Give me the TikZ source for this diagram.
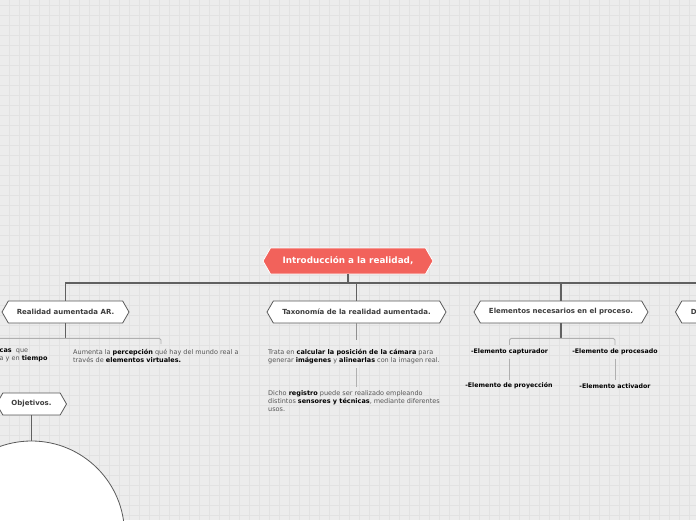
\documentclass[tikz,border=0pt]{standalone}
\usepackage{fontspec}
\setmainfont{DejaVu Sans}
\usetikzlibrary{shapes.symbols}
\definecolor{bgc}{HTML}{ECECEC}
\definecolor{gridc}{HTML}{E2E2E2}
\definecolor{rootc}{HTML}{F2625B}
\definecolor{darkline}{HTML}{606060}
\definecolor{lightline}{HTML}{B0B0B0}
\definecolor{nodeline}{HTML}{5A5A5A}
\definecolor{textdark}{HTML}{3C3C3C}
\definecolor{textreg}{HTML}{555555}
\begin{document}
\begin{tikzpicture}[x=1pt,y=-1pt,
  hexnode/.style={shape=signal, signal to=east and west, signal pointer angle=120,
    draw=nodeline, fill=white, line width=0.8pt, minimum height=22pt, inner xsep=2pt,
    font=\fontsize{7}{8}\selectfont\bfseries, text=textdark},
  rootnode/.style={hexnode, fill=rootc, draw=white, text=white, minimum height=26pt,
    font=\fontsize{8.8}{10}\selectfont\bfseries},
  bodytext/.style={anchor=north west, inner sep=0pt, align=left, text=textreg,
    font=\fontsize{6.5}{8}\selectfont},
  itemtext/.style={inner sep=0pt, text=black, font=\fontsize{6.25}{8}\selectfont\bfseries},
  darkc/.style={draw=darkline, line width=1.2pt},
  midc/.style={draw=darkline!70, line width=0.9pt},
  lightc/.style={draw=lightline, line width=0.9pt, rounded corners=1.5pt},
]
\useasboundingbox (0,0) rectangle (696,520);
\fill[bgc] (0,0) rectangle (696,520);
\foreach \i in {0,...,69} {\draw[gridc, line width=0.7pt] (9.5+10*\i,0) -- (9.5+10*\i,520);}
\foreach \j in {0,...,51} {\draw[gridc, line width=0.7pt] (0,5+10*\j) -- (696,5+10*\j);}

% nodes
\node[rootnode, minimum width=170pt] (root) at (348,261) {Introducción a la realidad,};
\node[hexnode, minimum width=127pt] (n1) at (65.5,312) {Realidad aumentada AR.};
\node[hexnode, minimum width=179pt] (n2) at (356.5,312) {Taxonomía de la realidad aumentada.};
\node[hexnode, minimum width=174pt] (n3) at (561,312) {Elementos necesarios en el proceso.};
\node[hexnode, minimum width=140pt, text width=110pt, align=left, inner xsep=9pt, anchor=west] (n4) at (675,312) {D};
\node[hexnode, minimum width=70pt] (n5) at (31.5,404) {Objetivos.};
\node[circle, draw=nodeline, fill=white, line width=0.8pt, minimum size=186pt, inner sep=0pt] (circ) at (31.5,534) {};

\node[bodytext] (t1a) at (-0.5,349) {\textbf{\color{black}cas}\ \ que\\a y en \textbf{\color{black}tiempo}};
\node[bodytext] (t1b) at (73,349) {Aumenta la \textbf{\color{black}percepción} qué hay del mundo real a\\través de \textbf{\color{black}elementos virtuales.}};
\node[bodytext] (t2a) at (268,349) {Trata en \textbf{\color{black}calcular la posición de la cámara} para\\generar \textbf{\color{black}imágenes} y \textbf{\color{black}alinearlas} con la imagen real.};
\node[bodytext] (t2b) at (268,390) {Dicho \textbf{\color{black}registro} puede ser realizado empleando\\distintos \textbf{\color{black}sensores y técnicas}, mediante diferentes\\usos.};
\node[itemtext] (t3a) at (509.5,352) {-Elemento capturador};
\node[itemtext] (t3b) at (615,352) {-Elemento de procesado};
\node[itemtext] (t3c) at (509,386) {-Elemento de proyección};
\node[itemtext] (t3d) at (615,386) {-Elemento activador};

% main connectors
\coordinate (bus) at (348,283);
\draw[darkc] (root.south) -- (bus);
\draw[darkc] (bus) -| (n1.north);
\draw[darkc] (bus) -| (n2.north);
\draw[darkc] (bus) -| (n3.north);
\draw[darkc] (bus) -| (n4.north);

% Realidad aumentada
\draw[darkc] (n1.south) -- ++(0,15) coordinate (b1);
\coordinate (b1l) at (-12,344);
\coordinate (b1r) at (161,344);
\draw[lightc] (b1l) |- (b1) -| (b1r);

% Objetivos
\draw[darkc, line width=0.9pt] (n5.south) -- (circ.north);

% Taxonomia
\draw[midc] (n2.south) -- ++(0,17);
\draw[lightc] ([yshift=-4pt]t2a.south -| n2.south) -- ([yshift=3.5pt]t2b.north -| n2.south);

% Elementos
\draw[darkc] (n3.south) -- ++(0,15) coordinate (b3);
\draw[lightc] ([yshift=4pt]t3a.north) |- (b3) -| ([yshift=4pt]t3b.north);
\draw[lightc] ([yshift=-3.5pt]t3a.south) -- ([yshift=3pt]t3c.north -| t3a.south);
\draw[lightc] ([yshift=-3.5pt]t3b.south) -- ([yshift=3pt]t3d.north -| t3b.south);
\end{tikzpicture}
\end{document}
